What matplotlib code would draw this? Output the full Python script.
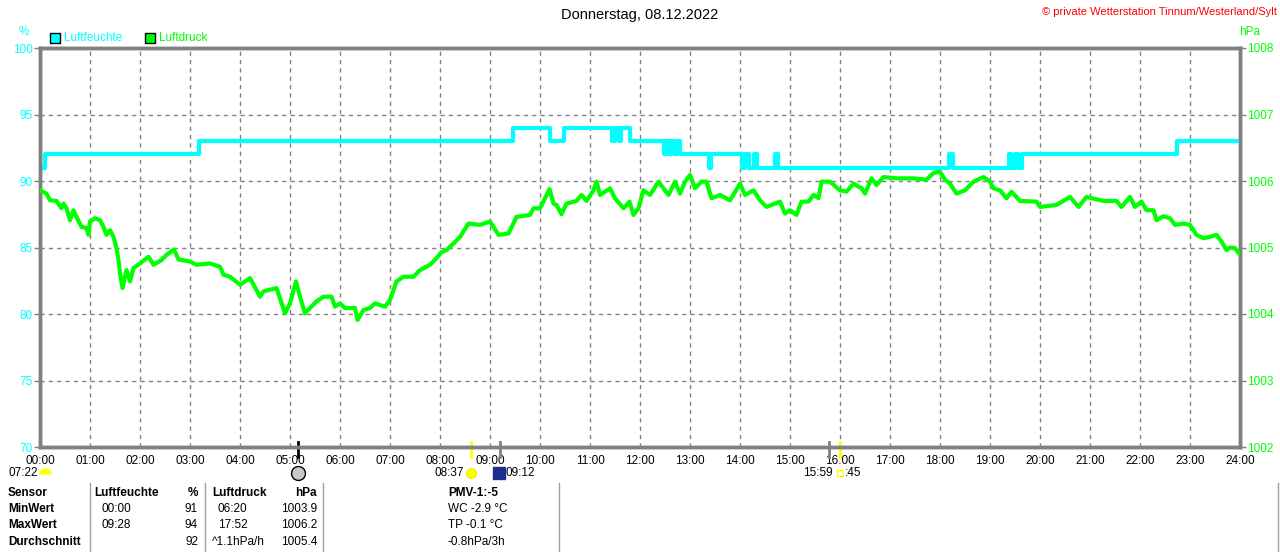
import matplotlib
matplotlib.use('Agg')
import matplotlib.pyplot as plt
from matplotlib.patches import Rectangle
from matplotlib.lines import Line2D

plt.rcParams['font.family'] = ['Liberation Sans', 'DejaVu Sans']
plt.rcParams['font.size'] = 8

W, H = 1280, 552

# Luftfeuchte (%), Stufenwerte: Zeitpunkt in Stunden -> Wert
hum_t = [0, 0.1, 3.17, 9.45, 10.19, 10.47, 11.43, 11.5, 11.57, 11.62, 11.8,
         12.47, 12.52, 12.57, 12.62, 12.67, 12.73, 12.8, 13.37, 13.42,
         14.03, 14.1, 14.17, 14.27, 14.33, 14.7, 14.75, 18.17, 18.25,
         19.37, 19.42, 19.5, 19.55, 19.63, 22.73, 24]
hum_v = [91, 92, 93, 94, 93, 94, 93, 94, 93, 94, 93,
         92, 93, 92, 93, 92, 93, 92, 91, 92,
         91, 92, 91, 92, 91, 92, 91, 92, 91,
         92, 91, 92, 91, 92, 93, 93]

# Luftdruck (hPa)
pres_t = [0, 0.13, 0.2, 0.33, 0.43, 0.47, 0.53, 0.6, 0.67, 0.73, 0.83, 0.93, 0.97,
          1.0, 1.1, 1.2, 1.27, 1.33, 1.4, 1.47, 1.53, 1.57, 1.6, 1.65, 1.73, 1.8,
          1.87, 2.0, 2.17, 2.27, 2.43, 2.53, 2.68, 2.77, 3.0, 3.13, 3.4, 3.6, 3.67,
          3.8, 4.0, 4.2, 4.4, 4.47, 4.73, 4.9, 5.0, 5.12, 5.2, 5.3, 5.4, 5.53,
          5.67, 5.83, 5.9, 6.0, 6.1, 6.3, 6.35, 6.47, 6.6, 6.7, 6.9, 7.0, 7.13,
          7.27, 7.47, 7.6, 7.8, 7.93, 8.03, 8.13, 8.27, 8.4, 8.57, 8.8, 9.0,
          9.17, 9.37, 9.53, 9.8, 9.87, 10.0, 10.1, 10.19, 10.27, 10.33, 10.43,
          10.53, 10.73, 10.83, 10.93, 11.07, 11.13, 11.2, 11.4, 11.5, 11.67,
          11.79, 11.87, 11.97, 12.07, 12.2, 12.37, 12.47, 12.57, 12.7, 12.8,
          12.9, 13.0, 13.1, 13.23, 13.33, 13.43, 13.6, 13.8, 14.0, 14.1, 14.27,
          14.4, 14.53, 14.8, 14.9, 15.0, 15.13, 15.23, 15.37, 15.47, 15.57,
          15.63, 15.8, 16.0, 16.13, 16.27, 16.43, 16.5, 16.63, 16.73, 16.87,
          17.13, 17.47, 17.73, 17.87, 18.0, 18.1, 18.2, 18.33, 18.5, 18.67,
          18.87, 19.0, 19.07, 19.2, 19.33, 19.43, 19.6, 19.93, 20.0, 20.33,
          20.6, 20.77, 20.93, 21.27, 21.53, 21.63, 21.8, 21.9, 22.03, 22.13,
          22.27, 22.33, 22.47, 22.6, 22.7, 22.87, 23.0, 23.13, 23.27, 23.4,
          23.53, 23.63, 23.73, 23.8, 23.9, 24.0]
pres_v = [1005.86, 1005.81, 1005.71, 1005.70, 1005.59, 1005.66, 1005.59, 1005.41,
          1005.56, 1005.46, 1005.31, 1005.29, 1005.19, 1005.39, 1005.44, 1005.41,
          1005.31, 1005.19, 1005.26, 1005.16, 1004.99, 1004.81, 1004.61, 1004.39,
          1004.66, 1004.49, 1004.69, 1004.76, 1004.86, 1004.74, 1004.81, 1004.89,
          1004.97, 1004.82, 1004.79, 1004.74, 1004.76, 1004.71, 1004.59, 1004.56,
          1004.44, 1004.54, 1004.26, 1004.34, 1004.39, 1004.01, 1004.16, 1004.49,
          1004.26, 1004.01, 1004.09, 1004.19, 1004.26, 1004.26, 1004.11, 1004.16,
          1004.09, 1004.09, 1003.91, 1004.06, 1004.09, 1004.16, 1004.11, 1004.21,
          1004.49, 1004.56, 1004.56, 1004.66, 1004.74, 1004.84, 1004.93, 1004.96,
          1005.06, 1005.16, 1005.36, 1005.34, 1005.39, 1005.19, 1005.21, 1005.46,
          1005.49, 1005.59, 1005.59, 1005.74, 1005.88, 1005.66, 1005.64, 1005.50,
          1005.66, 1005.70, 1005.79, 1005.70, 1005.86, 1005.99, 1005.79, 1005.89,
          1005.74, 1005.59, 1005.69, 1005.49, 1005.59, 1005.86, 1005.79, 1005.99,
          1005.89, 1005.79, 1005.99, 1005.81, 1005.99, 1006.09, 1005.89, 1005.99,
          1005.99, 1005.74, 1005.79, 1005.71, 1005.96, 1005.79, 1005.86, 1005.71,
          1005.61, 1005.69, 1005.51, 1005.56, 1005.49, 1005.69, 1005.69, 1005.79,
          1005.74, 1005.99, 1005.99, 1005.86, 1005.84, 1005.96, 1005.89, 1005.81,
          1006.04, 1005.94, 1006.06, 1006.04, 1006.04, 1006.02, 1006.12, 1006.14,
          1006.02, 1005.96, 1005.81, 1005.86, 1005.99, 1006.06, 1005.99, 1005.89,
          1005.86, 1005.74, 1005.84, 1005.70, 1005.69, 1005.61, 1005.64, 1005.76,
          1005.61, 1005.76, 1005.70, 1005.70, 1005.61, 1005.76, 1005.61, 1005.69,
          1005.56, 1005.56, 1005.41, 1005.47, 1005.44, 1005.34, 1005.36, 1005.34,
          1005.19, 1005.14, 1005.16, 1005.19, 1005.09, 1004.96, 1005.00, 1004.99,
          1004.89]

hours = list(range(25))
hour_labels = ['%02d:00' % h for h in hours]
hum_ticks = [70, 75, 80, 85, 90, 95, 100]
pres_ticks = [1002, 1003, 1004, 1005, 1006, 1007, 1008]

# Astro-Ereignisse unter der Zeitachse (Stunde, Farbe)
event_t = [5.16, 8.62, 9.2, 15.77, 16.0]
event_c = ['black', '#ffff00', '#808080', '#808080', '#ffff00']

title = 'Donnerstag, 08.12.2022'
credit = '\u00a9 private Wetterstation Tinnum/Westerland/Sylt'

row_names = ['Sensor', 'MinWert', 'MaxWert', 'Durchschnitt']
hum_time = ['Luftfeuchte', '00:00', '09:28', '']
hum_val = ['%', '91', '94', '92']
pres_time = ['Luftdruck', '06:20', '17:52', '^1.1hPa/h']
pres_val = ['hPa', '1003.9', '1006.2', '1005.4']
extra = ['PMV-1:-5', 'WC -2.9 \u00b0C', 'TP -0.1 \u00b0C', '-0.8hPa/3h']

CYAN = '#00ffff'
GREEN = '#00ff00'
GREY = '#808080'

fig = plt.figure(figsize=(W / 100, H / 100), dpi=100)


def fx(x):
    return x / W


def fy(y):
    return 1 - y / H


ax = fig.add_axes([fx(40), fy(447), 1200 / W, 399 / H])
ax2 = ax.twinx()

ax.set_xlim(0, 24)
ax.set_ylim(70, 100)
ax2.set_ylim(1002, 1008)
ax.set_xticks(hours)
ax.set_xticklabels(hour_labels)
ax.set_yticks(hum_ticks)
ax2.set_yticks(pres_ticks)

ax.grid(True, color=GREY, linestyle=(0, (3, 3)), linewidth=1)
ax.set_axisbelow(True)

for a in (ax, ax2):
    for s in a.spines.values():
        s.set_color(GREY)
        s.set_linewidth(2.5)

ax.tick_params(axis='x', length=0, pad=6, labelsize=8.5, colors='black')
ax.tick_params(axis='y', length=4, width=1, color=GREY, labelcolor=CYAN,
               labelsize=8.5, pad=1)
ax2.tick_params(axis='y', length=4, width=1, color=GREY, labelcolor=GREEN,
                labelsize=8.5, pad=1)

ax.step(hum_t, hum_v, where='post', color=CYAN, linewidth=3, zorder=3)
ax2.plot(pres_t, pres_v, color=GREEN, linewidth=3, zorder=3)

# Marken an der Zeitachse
xt = ax.get_xaxis_transform()
for t, c in zip(event_t, event_c):
    ax.add_line(Line2D([t, t], [0.012, -0.025], transform=xt,
                       color=c, linewidth=2, clip_on=False))

# Kopfzeile
fig.text(fx(640), fy(15), title, ha='center', va='center', fontsize=10.5)
fig.text(fx(1277), fy(12), credit, ha='right', va='center', color='red', fontsize=8)
fig.text(fx(24), fy(32), '%', ha='center', va='center', color=CYAN, fontsize=8.5)
fig.text(fx(1250), fy(32), 'hPa', ha='center', va='center', color=GREEN, fontsize=8.5)

for x0, col, name in [(50, CYAN, 'Luftfeuchte'), (145, GREEN, 'Luftdruck')]:
    fig.add_artist(Rectangle((fx(x0), fy(43)), 10 / W, 10 / H, transform=fig.transFigure,
                             facecolor=col, edgecolor='black', linewidth=1))
    fig.text(fx(x0 + 14), fy(38), name, ha='left', va='center', color=col, fontsize=8.5)

# Sonne / Mond Zeile
ty = fy(473)
fig.text(fx(38), ty, '07:22', ha='right', va='center', fontsize=8.5)
ax.plot([0.1], [-0.068], transform=xt, marker='o', ms=9, fillstyle='top',
        color='#ffff00', markerfacecoloralt='none', mec='none', clip_on=False)
ax.plot([5.16], [-0.065], transform=xt, marker='o', ms=10,
        color='#c8c8c8', mec='black', clip_on=False)
fig.text(fx(464), ty, '08:37', ha='right', va='center', fontsize=8.5)
ax.plot([8.62], [-0.065], transform=xt, marker='o', ms=7,
        color='#ffff00', mec='#f0f000', clip_on=False)
ax.plot([9.17], [-0.065], transform=xt, marker='s', ms=8,
        color='#1c2f8c', mec='#1c2f8c', clip_on=False)
fig.text(fx(506), ty, '09:12', ha='left', va='center', fontsize=8.5)
fig.text(fx(833), ty, '15:59', ha='right', va='center', fontsize=8.5)
ax.plot([16.0], [-0.065], transform=xt, marker='s', ms=5,
        color='white', mec='#ffff00', clip_on=False)
fig.text(fx(845), ty, ':45', ha='left', va='center', fontsize=8.5)

# Tabelle
for xs in [90, 205, 323, 559, 1278]:
    fig.add_artist(Line2D([fx(xs), fx(xs)], [fy(483), fy(552)], transform=fig.transFigure,
                          color='#a0a0a0', linewidth=1))

row_y = [493, 509, 525, 542]
for i, y in enumerate(row_y):
    head = i == 0
    wt = 'bold' if head else 'normal'
    fig.text(fx(8), fy(y), row_names[i], ha='left', va='center', fontweight='bold',
             fontsize=8.5)
    fig.text(fx(94 if head else 101), fy(y), hum_time[i], ha='left', va='center',
             fontweight=wt, fontsize=8.5)
    fig.text(fx(198), fy(y), hum_val[i], ha='right', va='center', fontweight=wt,
             fontsize=8.5)
    fig.text(fx(212 if head or i == 3 else 218), fy(y), pres_time[i], ha='left',
             va='center', fontweight=wt, fontsize=8.5)
    fig.text(fx(317), fy(y), pres_val[i], ha='right', va='center', fontweight=wt,
             fontsize=8.5)
    fig.text(fx(448), fy(y), extra[i], ha='left', va='center', fontweight=wt,
             fontsize=8.5)

fig.savefig('out.png', dpi=100)
